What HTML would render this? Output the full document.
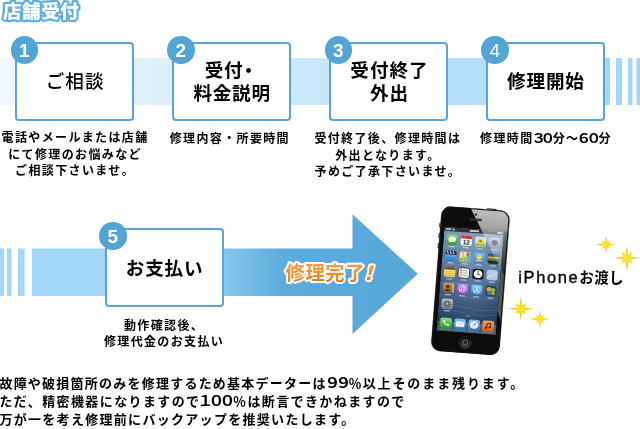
<!DOCTYPE html>
<html lang="ja">
<head>
<meta charset="utf-8">
<title>店舗受付</title>
<style>
html,body{margin:0;padding:0;background:#fff;}
body{width:640px;height:429px;overflow:hidden;position:relative;
  font-family:"Liberation Sans","Noto Sans CJK JP",sans-serif;color:#000;}
#stage{position:absolute;left:0;top:0;width:640px;height:429px;overflow:hidden;will-change:transform;}
.abs{position:absolute;}
#bg{position:absolute;left:0;top:0;}
.box{position:absolute;width:115px;height:75.1px;border:2.2px solid #5aa3d5;border-radius:4px;background:#fff;
  display:flex;align-items:center;justify-content:center;text-align:center;
  font-size:18.6px;font-weight:700;line-height:23.1px;letter-spacing:0.7px;}
.box span{display:block;position:relative;top:-0.1px;left:0.6px;}
.box span.two{top:0.8px;}
.box em{font-style:normal;margin-left:-4.1px;margin-right:1.1px;}
.num{position:absolute;width:27.6px;height:27.6px;border-radius:50%;background:#54a4d6;color:#fff;
  font-size:19px;font-weight:700;line-height:29.4px;text-align:center;font-family:"Liberation Sans",sans-serif;}
.desc{position:absolute;font-size:12px;font-weight:700;line-height:16.5px;text-align:center;white-space:nowrap;letter-spacing:1.36px;padding-left:1.36px;}
#handover{position:absolute;left:518.3px;top:266px;font-size:14.5px;line-height:22px;font-weight:700;white-space:nowrap;letter-spacing:0.4px;}
#handover span{font-size:16.5px;font-weight:400;letter-spacing:1.6px;-webkit-text-stroke:0.35px #000;}
#note{position:absolute;left:-0.6px;top:374.6px;font-size:13px;line-height:18.2px;font-weight:700;white-space:nowrap;letter-spacing:1.3px;}
.d4 b.d{width:0.76em;}
b.d{display:inline-flex;justify-content:center;width:0.795em;font-size:1.05em;font-weight:inherit;letter-spacing:0;transform:scaleX(1.2);white-space:nowrap;}
</style>
</head>
<body>
<div id="stage">
<svg id="bg" width="640" height="429" viewBox="0 0 640 429">
  <defs>
    <linearGradient id="g1" x1="0" y1="0" x2="640" y2="0" gradientUnits="userSpaceOnUse">
      <stop offset="0" stop-color="#f1f8fd"/>
      <stop offset="1" stop-color="#9fd5f9"/>
    </linearGradient>
    <linearGradient id="g2" x1="0" y1="0" x2="420" y2="0" gradientUnits="userSpaceOnUse">
      <stop offset="0" stop-color="#a3d7f9"/>
      <stop offset="0.44" stop-color="#a3d7f9"/>
      <stop offset="0.68" stop-color="#5babdc"/>
      <stop offset="1" stop-color="#57a7d9"/>
    </linearGradient>
  </defs>
  <!-- band 1 -->
  <rect x="0" y="58" width="610" height="47" fill="url(#g1)"/>
  <rect x="616" y="58" width="6" height="47" fill="#a3d7f9"/>
  <rect x="628" y="58" width="4.5" height="47" fill="#a3d7f9"/>
  <rect x="636.5" y="58" width="3.5" height="47" fill="#a3d7f9"/>
  <!-- band 2 + arrow -->
  <rect x="0" y="248.5" width="4" height="47.5" fill="#a3d7f9"/>
  <rect x="7" y="248.5" width="4.5" height="47.5" fill="#a3d7f9"/>
  <rect x="18" y="248.5" width="6.5" height="47.5" fill="#a3d7f9"/>
  <path d="M32 248.5 H352.5 V214.3 L417.8 273.8 L352.5 334 V296 H32 Z" fill="url(#g2)"/>
</svg>

<svg class="abs" style="left:0;top:0;" width="120" height="30" viewBox="0 0 120 30">
  <text x="3" y="18" font-family="'Liberation Sans','Noto Sans CJK JP',sans-serif" font-size="18.5" font-weight="900" letter-spacing="0.6" fill="#fff" stroke="#5fb0de" stroke-width="4.5" stroke-linejoin="round" paint-order="stroke fill">店舗受付</text>
</svg>

<div class="box" style="left:15px;top:42px;"><span style="font-weight:500;letter-spacing:1px;">ご相談</span></div>
<div class="num" style="left:10.6px;top:36.1px;">1</div>
<div class="desc" style="left:-0.8px;width:149px;top:130.3px;">電話やメールまたは店舗<br>にて修理のお悩みなど<br>ご相談下さいませ。</div>

<div class="box" style="left:172px;top:42px;"><span class="two">受付<em>・</em><br>料金説明</span></div>
<div class="num" style="left:167.1px;top:36.1px;">2</div>
<div class="desc" style="left:154px;width:149px;top:130.5px;">修理内容・所要時間</div>

<div class="box" style="left:329.4px;top:42px;"><span class="two" style="letter-spacing:1px;">受付終了<br>外出</span></div>
<div class="num" style="left:324.6px;top:36.1px;">3</div>
<div class="desc" style="left:312px;width:149px;top:131px;">受付終了後、修理時間は<br>外出となります。<br>予めご了承下さいませ。</div>

<div class="box" style="left:485.8px;top:42px;"><span style="letter-spacing:0.9px;">修理開始</span></div>
<div class="num" style="left:481px;top:36.1px;font-weight:400;">4</div>
<div class="desc d4" style="left:470.1px;width:149px;top:130.5px;">修理時間<b class="d">３</b><b class="d">０</b>分～<b class="d">６</b><b class="d">０</b>分</div>

<div class="box" style="left:104.5px;top:228px;"><span style="top:0.5px;letter-spacing:0.8px;">お支払い</span></div>
<div class="num" style="left:99px;top:222.1px;">5</div>
<div class="desc" style="left:88.2px;width:149px;top:317.5px;">動作確認後、<br>修理代金のお支払い</div>

<svg class="abs" style="left:270px;top:250px;" width="130" height="46" viewBox="0 0 130 46">
  <defs><linearGradient id="og" x1="0" y1="12" x2="0" y2="32" gradientUnits="userSpaceOnUse"><stop offset="0" stop-color="#f4a04e"/><stop offset="1" stop-color="#e67f1e"/></linearGradient></defs>
  <text x="15.6" y="29.6" font-family="'Liberation Sans','Noto Sans CJK JP',sans-serif" font-size="19.3" font-weight="700" letter-spacing="0.6" fill="url(#og)" stroke="#fff" stroke-width="4" stroke-linejoin="round" paint-order="stroke fill">修理完了<tspan font-style="italic" font-weight="900" dx="-6.5">！</tspan></text>
</svg>

<!--PHONE-->
<svg id="phone" class="abs" style="left:0;top:0;" width="640" height="429" viewBox="0 0 640 429">
<defs>
<linearGradient id="wall" x1="0" y1="0" x2="0" y2="1"><stop offset="0" stop-color="#8099b8"/><stop offset="0.22" stop-color="#57789f"/><stop offset="0.5" stop-color="#3a5b85"/><stop offset="1" stop-color="#1f3553"/></linearGradient>
<radialGradient id="wallg" cx="0.5" cy="0.3" r="0.7"><stop offset="0" stop-color="#a9bdd3" stop-opacity="0.4"/><stop offset="1" stop-color="#a9bdd3" stop-opacity="0"/></radialGradient>
<linearGradient id="gloss" x1="0" y1="0" x2="0" y2="1"><stop offset="0" stop-color="#fff" stop-opacity="0.74"/><stop offset="0.28" stop-color="#fff" stop-opacity="0.62"/><stop offset="0.34" stop-color="#fff" stop-opacity="0.42"/><stop offset="1" stop-color="#fff" stop-opacity="0.08"/></linearGradient>
<linearGradient id="edge" x1="0" y1="0" x2="1" y2="0"><stop offset="0" stop-color="#555"/><stop offset="0.08" stop-color="#1c1c1c"/><stop offset="0.92" stop-color="#1c1c1c"/><stop offset="1" stop-color="#3a3a3a"/></linearGradient>
<linearGradient id="grn" x1="0" y1="0" x2="0" y2="1"><stop offset="0" stop-color="#8be36c"/><stop offset="1" stop-color="#2f9a22"/></linearGradient>
<linearGradient id="blu" x1="0" y1="0" x2="0" y2="1"><stop offset="0" stop-color="#7ec3f3"/><stop offset="1" stop-color="#2b78c9"/></linearGradient>
<linearGradient id="org" x1="0" y1="0" x2="0" y2="1"><stop offset="0" stop-color="#fba454"/><stop offset="1" stop-color="#e4581a"/></linearGradient>
<linearGradient id="pur" x1="0" y1="0" x2="0" y2="1"><stop offset="0" stop-color="#c58be6"/><stop offset="1" stop-color="#8a3fc0"/></linearGradient>
<linearGradient id="gry" x1="0" y1="0" x2="0" y2="1"><stop offset="0" stop-color="#c9ccd2"/><stop offset="1" stop-color="#7d828b"/></linearGradient>
<linearGradient id="brn" x1="0" y1="0" x2="0" y2="1"><stop offset="0" stop-color="#c99a5a"/><stop offset="1" stop-color="#8a5a26"/></linearGradient>
<linearGradient id="yel" x1="0" y1="0" x2="0" y2="1"><stop offset="0" stop-color="#fbe88f"/><stop offset="1" stop-color="#efc84a"/></linearGradient>
<linearGradient id="home" x1="0" y1="0" x2="0" y2="1"><stop offset="0" stop-color="#0a0a0a"/><stop offset="1" stop-color="#3a3a3a"/></linearGradient>
<clipPath id="scr"><rect x="4.5" y="20.5" width="60.4" height="102.8"/></clipPath>
<clipPath id="bodyc"><rect x="0" y="0" width="70" height="143.5" rx="9.5" ry="9.5"/></clipPath>
</defs>
<g transform="matrix(0.983 0.0736 -0.0787 1.010 441.7 205.7)">
<rect x="-0.9" y="17" width="1.5" height="4.5" rx="0.5" fill="#2a2a2a"/>
<rect x="-0.9" y="27" width="1.5" height="5" rx="0.5" fill="#2a2a2a"/>
<rect x="-0.9" y="37" width="1.5" height="5" rx="0.5" fill="#2a2a2a"/>
<rect x="46" y="-0.8" width="10" height="1.4" rx="0.5" fill="#2a2a2a"/>
<rect x="0" y="0" width="70" height="143.5" rx="9.5" ry="9.5" fill="url(#edge)"/>
<rect x="1.3" y="1.2" width="67.4" height="141.1" rx="8.4" ry="8.4" fill="#0c0c0c"/>
<g clip-path="url(#scr)">
<rect x="4.5" y="20.5" width="60.4" height="102.8" fill="url(#wall)"/>
<rect x="4.5" y="20.5" width="60.4" height="102.8" fill="url(#wallg)"/>
<path d="M4 40 Q 20 37 35 40 T 67 39" fill="none" stroke="#b9cbdd" stroke-opacity="0.18" stroke-width="0.9"/>
<path d="M4 52 Q 20 49 35 52 T 67 51" fill="none" stroke="#b9cbdd" stroke-opacity="0.18" stroke-width="0.9"/>
<path d="M4 58 Q 20 55 35 58 T 67 57" fill="none" stroke="#b9cbdd" stroke-opacity="0.18" stroke-width="0.9"/>
<path d="M4 70 Q 20 67 35 70 T 67 69" fill="none" stroke="#b9cbdd" stroke-opacity="0.18" stroke-width="0.9"/>
<path d="M4 76 Q 20 73 35 76 T 67 75" fill="none" stroke="#b9cbdd" stroke-opacity="0.18" stroke-width="0.9"/>
<path d="M4 88 Q 20 85 35 88 T 67 87" fill="none" stroke="#b9cbdd" stroke-opacity="0.18" stroke-width="0.9"/>
<path d="M4 99 Q 20 96 35 99 T 67 98" fill="none" stroke="#b9cbdd" stroke-opacity="0.18" stroke-width="0.9"/>
<path d="M4 104 Q 20 101 35 104 T 67 103" fill="none" stroke="#b9cbdd" stroke-opacity="0.18" stroke-width="0.9"/>
<rect x="4.5" y="20.5" width="60.4" height="4" fill="#2c3138"/>
<rect x="6" y="21.6" width="5.5" height="1.8" fill="#d5d9de" opacity="0.8"/><rect x="12.7" y="21.5" width="2.6" height="2" rx="1" fill="#d5d9de" opacity="0.8"/>
<rect x="30.3" y="21.6" width="9.5" height="1.9" fill="#e3e6ea" opacity="0.85"/>
<rect x="58.5" y="21.6" width="5" height="1.9" rx="0.4" fill="#e3e6ea" opacity="0.85"/>
<g transform="translate(7.6 27.6) scale(1.0654 0.9439)"><rect width="10.7" height="10.7" rx="2.2" fill="url(#grn)"/><ellipse cx="5.35" cy="4.9" rx="3.6" ry="2.9" fill="#f4fff0"/><path d="M3 6.6 L2.3 8.6 L4.6 7.5Z" fill="#f4fff0"/><rect x="2.3539999999999996" y="12.0" width="5.992" height="1.3" rx="0.6" fill="#e8edf3" opacity="0.6"/></g>
<g transform="translate(22.0 27.6) scale(1.0654 0.9439)"><rect width="10.7" height="10.7" rx="2.2" fill="#fbfbfb"/><path d="M0 2.2 A2.2 2.2 0 0 1 2.2 0 H8.5 A2.2 2.2 0 0 1 10.7 2.2 V3.3 H0Z" fill="#d2332f"/><text x="5.35" y="9.3" font-family="'Liberation Sans',sans-serif" font-weight="700" font-size="6.6" text-anchor="middle" fill="#1b1b1b" letter-spacing="-0.3">12</text><rect x="2.3539999999999996" y="12.0" width="5.992" height="1.3" rx="0.6" fill="#e8edf3" opacity="0.6"/></g>
<g transform="translate(36.4 27.6) scale(1.0654 0.9439)"><rect width="10.7" height="10.7" rx="2.2" fill="#cfe3f3"/><rect y="6.5" width="10.7" height="4.2" rx="2" fill="#9fc26a"/><circle cx="5.2" cy="4.6" r="3" fill="#f6d23c"/><circle cx="5.2" cy="4.6" r="1.2" fill="#a8681c"/><rect x="2.3539999999999996" y="12.0" width="5.992" height="1.3" rx="0.6" fill="#e8edf3" opacity="0.6"/></g>
<g transform="translate(50.8 27.6) scale(1.0654 0.9439)"><rect width="10.7" height="10.7" rx="2.2" fill="url(#gry)"/><circle cx="5.35" cy="5.35" r="3.1" fill="#5e636b"/><circle cx="5.35" cy="5.35" r="1.9" fill="#2d3138"/><circle cx="5.35" cy="5.35" r="0.8" fill="#6d7f98"/><rect x="2.3539999999999996" y="12.0" width="5.992" height="1.3" rx="0.6" fill="#e8edf3" opacity="0.6"/></g>
<g transform="translate(7.6 43.6) scale(1.0654 0.9439)"><rect width="10.7" height="10.7" rx="2.2" fill="url(#blu)"/><path d="M0 2.2 A2.2 2.2 0 0 1 2.2 0 H8.5 A2.2 2.2 0 0 1 10.7 2.2 V4 H0Z" fill="#23262c"/><path d="M1.5 0.6 l1.3 2.6 M4.2 0.6 l1.3 2.6 M6.9 0.6 l1.3 2.6" stroke="#e9e9e9" stroke-width="1"/><rect x="2.3539999999999996" y="12.0" width="5.992" height="1.3" rx="0.6" fill="#e8edf3" opacity="0.6"/></g>
<g transform="translate(22.0 43.6) scale(1.0654 0.9439)"><rect width="10.7" height="10.7" rx="2.2" fill="#efe3a1"/><path d="M0 7 L10.7 3.8 V8.5 A2.2 2.2 0 0 1 8.5 10.7 H2.2 A2.2 2.2 0 0 1 0 8.5Z" fill="#8fc06d"/><path d="M6.4 0 H8.5 A2.2 2.2 0 0 1 10.7 2.2 V10.7 H8 Z" fill="#6ba6dc" opacity="0.9"/><path d="M3.2 0 L4.4 10.7" stroke="#f5b73a" stroke-width="1.3"/><circle cx="7.6" cy="3" r="1.3" fill="#d84a3a"/><rect x="2.3539999999999996" y="12.0" width="5.992" height="1.3" rx="0.6" fill="#e8edf3" opacity="0.6"/></g>
<g transform="translate(36.4 43.6) scale(1.0654 0.9439)"><rect width="10.7" height="10.7" rx="2.2" fill="url(#blu)"/><circle cx="5.35" cy="4.7" r="2.7" fill="#fbd23c"/><rect x="1.8" y="7.9" width="7" height="1.1" fill="#eaf3fb" opacity="0.8"/><rect x="2.3539999999999996" y="12.0" width="5.992" height="1.3" rx="0.6" fill="#e8edf3" opacity="0.6"/></g>
<g transform="translate(50.8 43.6) scale(1.0654 0.9439)"><rect width="10.7" height="10.7" rx="2.2" fill="#232d2a"/><rect x="0" y="0" width="10.7" height="3" rx="2" fill="#2f5f86"/><rect x="0" y="2.8" width="10.7" height="2.6" fill="#d9aa35"/><rect x="0" y="5.3" width="10.7" height="2.2" fill="#3f7f4d"/><rect x="2.3539999999999996" y="12.0" width="5.992" height="1.3" rx="0.6" fill="#e8edf3" opacity="0.6"/></g>
<g transform="translate(7.6 59.6) scale(1.0654 0.9439)"><rect width="10.7" height="10.7" rx="2.2" fill="url(#yel)"/><path d="M0 2.2 A2.2 2.2 0 0 1 2.2 0 H8.5 A2.2 2.2 0 0 1 10.7 2.2 V2.9 H0Z" fill="#7a4f2a"/><path d="M1 5 H9.7 M1 6.9 H9.7 M1 8.8 H9.7" stroke="#d1a63a" stroke-width="0.4"/><rect x="2.3539999999999996" y="12.0" width="5.992" height="1.3" rx="0.6" fill="#e8edf3" opacity="0.6"/></g>
<g transform="translate(22.0 59.6) scale(1.0654 0.9439)"><rect width="10.7" height="10.7" rx="2.2" fill="#f7f7f5"/><rect width="10.7" height="10.7" rx="2.2" fill="none" stroke="#3a3a3a" stroke-width="0.9"/><path d="M3 0.5 V10.2" stroke="#d44" stroke-width="0.5"/><circle cx="1.9" cy="2.8" r="0.7" fill="#d33"/><circle cx="1.9" cy="5.3" r="0.7" fill="#e90"/><circle cx="1.9" cy="7.8" r="0.7" fill="#39c"/><path d="M4 2.8 H9 M4 5.3 H9 M4 7.8 H9" stroke="#777" stroke-width="0.6"/><rect x="2.3539999999999996" y="12.0" width="5.992" height="1.3" rx="0.6" fill="#e8edf3" opacity="0.6"/></g>
<g transform="translate(36.4 59.6) scale(1.0654 0.9439)"><rect width="10.7" height="10.7" rx="2.2" fill="#141414"/><circle cx="5.35" cy="5.35" r="4.2" fill="#f8f8f8"/><path d="M5.35 5.35 V2.3 M5.35 5.35 L7.5 6.5" stroke="#111" stroke-width="0.7" stroke-linecap="round"/><rect x="2.3539999999999996" y="12.0" width="5.992" height="1.3" rx="0.6" fill="#e8edf3" opacity="0.6"/></g>
<g transform="translate(50.8 59.6) scale(1.0654 0.9439)"><rect width="10.7" height="10.7" rx="2.2" fill="#b5c9dd"/><path d="M1 8 L3.5 5.5 L5.5 7 L9.5 2.6" stroke="#e9f1f9" stroke-width="0.9" fill="none"/><rect x="2.3539999999999996" y="12.0" width="5.992" height="1.3" rx="0.6" fill="#e8edf3" opacity="0.6"/></g>
<g transform="translate(7.6 75.3) scale(1.0654 0.9439)"><rect width="10.7" height="10.7" rx="2.2" fill="url(#brn)"/><rect x="9" y="0.6" width="1.7" height="9.4" fill="#d9c9a8" opacity="0.7"/><circle cx="4.7" cy="4" r="1.6" fill="#3d2a17"/><path d="M1.9 8.8 Q4.7 4.4 7.5 8.8Z" fill="#3d2a17"/><rect x="2.3539999999999996" y="12.0" width="5.992" height="1.3" rx="0.6" fill="#e8edf3" opacity="0.6"/></g>
<g transform="translate(22.0 75.3) scale(1.0654 0.9439)"><rect width="10.7" height="10.7" rx="2.2" fill="url(#pur)"/><circle cx="5.35" cy="5.35" r="3.4" fill="none" stroke="#f1e4fb" stroke-width="0.8"/><path d="M4.4 7 V3.6 L6.8 3 V6.4" stroke="#f6ecff" stroke-width="0.8" fill="none"/><circle cx="3.9" cy="7" r="0.8" fill="#f6ecff"/><circle cx="6.3" cy="6.4" r="0.8" fill="#f6ecff"/><rect x="2.3539999999999996" y="12.0" width="5.992" height="1.3" rx="0.6" fill="#e8edf3" opacity="0.6"/></g>
<g transform="translate(36.4 75.3) scale(1.0654 0.9439)"><rect width="10.7" height="10.7" rx="2.2" fill="url(#blu)"/><circle cx="5.35" cy="5.35" r="3.5" fill="none" stroke="#e8f3fd" stroke-width="0.8"/><path d="M3.4 7.6 L5.35 3.2 L7.3 7.6 M3.9 6.3 H6.8" stroke="#f2f8fe" stroke-width="0.8" fill="none"/><rect x="2.3539999999999996" y="12.0" width="5.992" height="1.3" rx="0.6" fill="#e8edf3" opacity="0.6"/></g>
<g transform="translate(50.8 75.3) scale(1.0654 0.9439)"><rect width="10.7" height="10.7" rx="2.2" fill="#2c4a2e"/><circle cx="3.4" cy="3.6" r="2.4" fill="#e8a23a"/><circle cx="7.4" cy="4.2" r="2.2" fill="#7cc04f"/><circle cx="4" cy="7.6" r="2.1" fill="#3d7fd0"/><circle cx="7.6" cy="7.8" r="1.9" fill="#c9963f"/><rect x="2.3539999999999996" y="12.0" width="5.992" height="1.3" rx="0.6" fill="#e8edf3" opacity="0.6"/></g>
<g transform="translate(7.6 91.1) scale(1.0654 0.9439)"><rect width="10.7" height="10.7" rx="2.2" fill="url(#gry)"/><circle cx="5.35" cy="5.35" r="3.3" fill="none" stroke="#4c5058" stroke-width="1.5" stroke-dasharray="1.3 0.9"/><circle cx="5.35" cy="5.35" r="2.3" fill="#5e636b"/><circle cx="5.35" cy="5.35" r="1" fill="#c3c6cc"/><rect x="2.3539999999999996" y="12.0" width="5.992" height="1.3" rx="0.6" fill="#e8edf3" opacity="0.6"/></g>
<circle cx="32.9" cy="106.6" r="0.55" fill="#cdd6e0" opacity="0.6"/><circle cx="35.2" cy="106.6" r="0.6" fill="#fff"/><circle cx="37.5" cy="106.6" r="0.55" fill="#cdd6e0" opacity="0.6"/>
<path d="M6.2 114.6 H64 L65.7 123.3 H4.5Z" fill="#58677c" opacity="0.8"/><rect x="5" y="114.4" width="60.2" height="0.5" fill="#e6edf4" opacity="0.7"/>
<g transform="translate(7.6 109.9) scale(1.06 0.92)"><rect width="11.2" height="11.2" rx="2.3" fill="url(#grn)"/><path d="M3 2.6 C2.4 5.4 5.6 8.8 8.4 8.4 L8.7 7 L7 6.2 L6.3 6.9 C5.3 6.5 4.6 5.7 4.3 4.8 L5 4.1 L4.3 2.4Z" fill="#f6fff2"/><rect y="11.5" width="11.2" height="2.6" fill="url(#grn)" opacity="0.28"/></g>
<g transform="translate(21.9 109.9) scale(1.06 0.92)"><rect width="11.2" height="11.2" rx="2.3" fill="url(#blu)"/><rect x="1.5" y="2.8" width="8.2" height="5.8" rx="0.5" fill="#f7fafd"/><path d="M1.5 3 L5.6 6.3 L9.7 3" stroke="#9fb6cf" stroke-width="0.6" fill="none"/><rect y="11.5" width="11.2" height="2.6" fill="url(#blu)" opacity="0.28"/></g>
<g transform="translate(36.2 109.9) scale(1.06 0.92)"><rect width="11.2" height="11.2" rx="2.3" fill="url(#blu)"/><circle cx="5.6" cy="5.6" r="3.9" fill="#e9f2fb"/><path d="M7.9 3.2 L6.2 6.2 L3.3 8 L5 5Z" fill="#d8432e"/><path d="M3.3 8 L5 5 L6.2 6.2Z" fill="#f4f4f4"/><rect y="11.5" width="11.2" height="2.6" fill="url(#blu)" opacity="0.28"/></g>
<g transform="translate(50.5 109.9) scale(1.06 0.92)"><rect width="11.2" height="11.2" rx="2.3" fill="url(#org)"/><path d="M4.4 7.6 V3.2 L7.9 2.4 V6.8" stroke="#3a1c08" stroke-width="0.9" fill="none"/><ellipse cx="3.7" cy="7.7" rx="1.2" ry="0.9" fill="#3a1c08"/><ellipse cx="7.2" cy="6.9" rx="1.2" ry="0.9" fill="#3a1c08"/><rect y="11.5" width="11.2" height="2.6" fill="url(#org)" opacity="0.28"/></g>
</g>
<circle cx="34.6" cy="132.9" r="6.2" fill="url(#home)" stroke="#2e2e2e" stroke-width="0.6"/>
<rect x="32.3" y="130.6" width="4.6" height="4.6" rx="1.1" fill="none" stroke="#8f8f8f" stroke-width="0.7"/>
<g clip-path="url(#bodyc)"><path d="M29.3 0 H70 V67 Z" fill="url(#gloss)"/><path d="M64.9 58 L70 67 V112 L64.9 100Z" fill="#fff" opacity="0.3"/></g>
<rect x="1" y="0.9" width="68" height="141.7" rx="8.6" ry="8.6" fill="none" stroke="#111" stroke-width="1.1"/>
<circle cx="35.2" cy="6.3" r="1.1" fill="#14161c"/><circle cx="35.2" cy="6.3" r="0.45" fill="#3b4660"/>
<rect x="28.8" y="10.2" width="13" height="2.2" rx="1.1" fill="#333"/>
<circle cx="24.8" cy="11.3" r="0.8" fill="#15181f"/>
</g>
</svg>
<svg id="stars" class="abs" style="left:0;top:0;" width="640" height="429" viewBox="0 0 640 429"><defs><radialGradient id="sg" cx="0.5" cy="0.5" r="0.5"><stop offset="0" stop-color="#ffe033"/><stop offset="0.45" stop-color="#ffd414"/><stop offset="1" stop-color="#f0b000"/></radialGradient></defs><polygon points="605.90,235.60 607.04,241.85 610.00,240.50 608.65,243.46 615.50,244.60 608.65,245.74 610.00,248.70 607.04,247.35 605.90,253.60 604.76,247.35 601.80,248.70 603.15,245.74 596.30,244.60 603.15,243.46 601.80,240.50 604.76,241.85" fill="url(#sg)"/><circle cx="605.9" cy="244.6" r="3.17" fill="#ffe033"/><polygon points="626.90,245.40 628.38,254.32 632.56,252.24 630.48,256.42 639.40,257.90 630.48,259.38 632.56,263.56 628.38,261.48 626.90,270.40 625.42,261.48 621.24,263.56 623.32,259.38 614.40,257.90 623.32,256.42 621.24,252.24 625.42,254.32" fill="url(#sg)"/><circle cx="626.9" cy="257.9" r="4.12" fill="#ffe033"/><polygon points="520.80,297.30 522.28,305.22 526.03,303.57 524.38,307.32 533.30,308.80 524.38,310.28 526.03,314.03 522.28,312.38 520.80,320.30 519.32,312.38 515.57,314.03 517.22,310.28 508.30,308.80 517.22,307.32 515.57,303.57 519.32,305.22" fill="url(#sg)"/><circle cx="520.8" cy="308.8" r="4.12" fill="#ffe033"/><polygon points="539.80,310.20 540.93,316.38 543.76,315.14 542.52,317.97 549.30,319.10 542.52,320.23 543.76,323.06 540.93,321.82 539.80,328.00 538.67,321.82 535.84,323.06 537.08,320.23 530.30,319.10 537.08,317.97 535.84,315.14 538.67,316.38" fill="url(#sg)"/><circle cx="539.8" cy="319.1" r="3.14" fill="#ffe033"/></svg>
<!--/PHONE-->
<div id="handover"><span>iPhone</span>お渡し</div>

<div id="note"><span style="letter-spacing:1.23px">故障や破損箇所のみを修理するため基本データーは<b class="d">９</b><b class="d">９</b>％<span style="letter-spacing:1.9px">以上そのまま残ります。</span></span><br><span style="letter-spacing:1.39px">ただ、精密機器になりますので<b class="d">１</b><b class="d">０</b><b class="d">０</b>％は断言できかねますので</span><br>万が一を考え修理前にバックアップを推奨いたします。</div>

</div>
</body>
</html>
